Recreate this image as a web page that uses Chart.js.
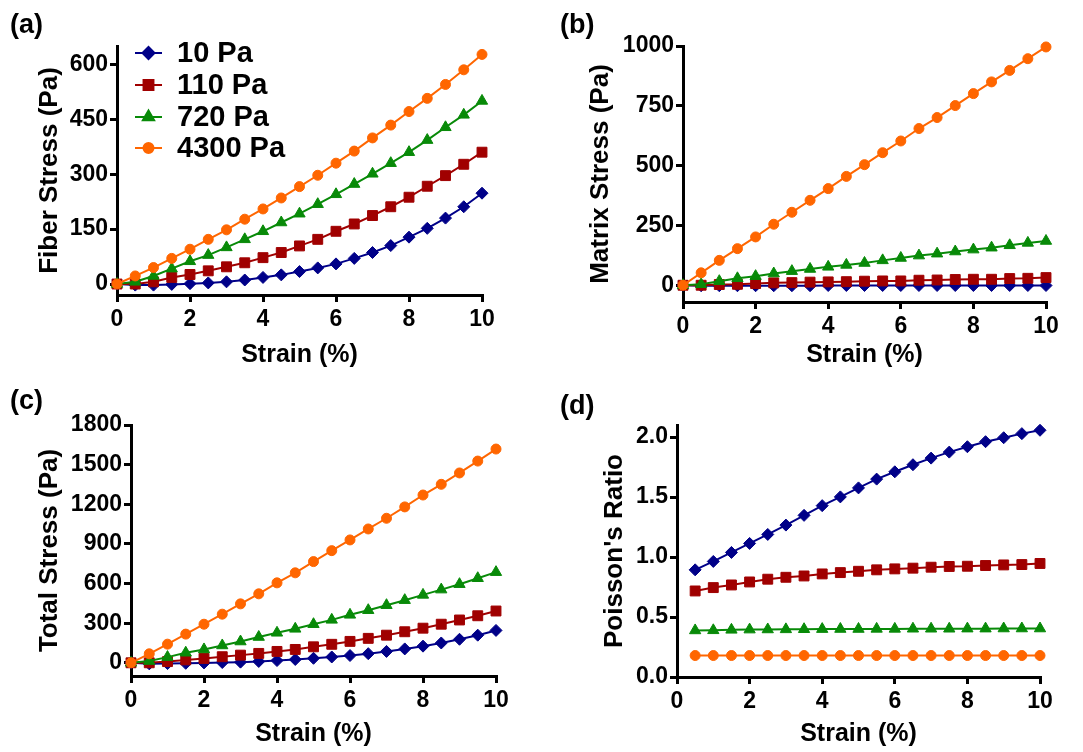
<!DOCTYPE html>
<html><head><meta charset="utf-8">
<script src="https://cdn.jsdelivr.net/npm/chart.js@4/dist/chart.umd.min.js"></script>
<style>
html,body{margin:0;padding:0;background:#fff;}
#wrap{position:relative;width:1083px;height:752px;overflow:hidden;background:#fff;}
canvas{position:absolute;}
</style></head><body>
<div id="wrap">
<canvas id="ca" width="541" height="376" style="left:0;top:0"></canvas>
<canvas id="cb" width="542" height="376" style="left:541px;top:0"></canvas>
<canvas id="cc" width="541" height="376" style="left:0;top:376px"></canvas>
<canvas id="cd" width="542" height="376" style="left:541px;top:376px"></canvas>
</div>
<script>
// ---------- data ----------
const seriesLabels = ['10 Pa', '110 Pa', '720 Pa', '4300 Pa'];
const strain  = [0,0.5,1,1.5,2,2.5,3,3.5,4,4.5,5,5.5,6,6.5,7,7.5,8,8.5,9,9.5,10];
const strainD = [0.5,1,1.5,2,2.5,3,3.5,4,4.5,5,5.5,6,6.5,7,7.5,8,8.5,9,9.5,10];

const fiber10   = [0,-3,-3,-1,1,3,6,11,18,25,34,44,55,70,86,105,128,152,180,211,248];
const fiber110  = [0,0,6,18,26,36,47,58,72,86,104,122,144,164,187,211,237,267,296,327,360];
const fiber720  = [0,6,22,42,62,79,100,122,144,168,192,218,245,273,301,330,360,393,428,462,500];
const fiber4300 = [0,22,45,70,95,122,148,177,205,235,266,297,330,363,399,434,471,507,545,585,627];

const matrix10   = [0,-2,-2,-2,-2,-2,-2,-2,-1,-1,-1,-1,-1,-1,-1,-1,-1,-1,-1,-1,-1];
const matrix110  = [0,0,3,4,7,10,11,13,14,15,17,18,18,21,22,24,25,25,28,29,32];
const matrix720  = [0,4,17,29,38,49,59,68,77,85,93,104,114,124,132,141,149,157,167,177,185];
const matrix4300 = [0,52,104,153,202,255,305,355,404,455,504,554,603,655,701,751,801,850,898,947,996];

const total10   = [0,-8,-6,-4,-1,2,5,10,17,25,34,44,55,69,86,105,126,150,178,209,245];
const total110  = [0,0,9,22,33,46,58,71,86,101,121,140,162,185,209,235,262,292,324,356,392];
const total720  = [0,13,43,76,101,131,161,195,227,257,292,325,363,398,436,474,514,554,595,640,686];
const total4300 = [0,68,141,217,292,368,446,522,605,681,766,849,930,1013,1094,1180,1270,1351,1437,1527,1618];

const poisson10   = [0.893,0.963,1.038,1.113,1.188,1.266,1.347,1.428,1.501,1.576,1.649,1.710,1.769,1.824,1.874,1.919,1.961,1.994,2.028,2.056];
const poisson110  = [0.717,0.745,0.767,0.792,0.815,0.831,0.842,0.859,0.870,0.881,0.893,0.901,0.907,0.915,0.921,0.923,0.929,0.934,0.937,0.946];
const poisson720  = [0.388,0.389,0.393,0.395,0.396,0.397,0.398,0.399,0.400,0.400,0.401,0.401,0.402,0.402,0.402,0.403,0.403,0.404,0.404,0.404];
const poisson4300 = [0.179,0.179,0.179,0.179,0.179,0.179,0.179,0.179,0.179,0.179,0.179,0.179,0.179,0.179,0.179,0.179,0.179,0.179,0.179,0.179];

const xTicks = [0,2,4,6,8,10];
const yTicksA = [0,150,300,450,600];
const yTicksB = [0,250,500,750,1000];
const yTicksC = [0,300,600,900,1200,1500,1800];
const yTicksD = [0,0.5,1.0,1.5,2.0];

// ---------- styles ----------
const FONT = '"Liberation Sans", Arial, Helvetica, sans-serif';
Chart.defaults.font.family = FONT;
const STYLES = [
  {color:'#000088', style:'rectRot',  r:6,   order:3},
  {color:'#A00000', style:'rect',     r:7,   order:2},
  {color:'#088A08', style:'triangle', r:6.5, order:1},
  {color:'#FF6600', style:'circle',   r:5,   order:0}
];

const decor = {
  id: 'decor',
  afterDraw(chart, args, o) {
    const ctx = chart.ctx;
    ctx.save();
    ctx.fillStyle = '#000';
    ctx.textAlign = 'left';
    ctx.textBaseline = 'middle';
    ctx.font = 'bold 27px ' + FONT;
    ctx.fillText(o.tag, o.tagX, o.tagY);
    if (o.legend) {
      const rows = [53, 85, 117, 148];
      ctx.font = 'bold 29px ' + FONT;
      seriesLabels.forEach((lab, k) => {
        const s = STYLES[k], y = rows[k];
        ctx.strokeStyle = s.color; ctx.fillStyle = s.color; ctx.lineWidth = 2;
        ctx.beginPath(); ctx.moveTo(135, y); ctx.lineTo(162, y); ctx.stroke();
        Chart.helpers.drawPoint(ctx, {pointStyle: s.style, radius: s.r, rotation: 0, borderWidth: 1}, 148.5, y);
        ctx.fillStyle = '#000';
        ctx.fillText(lab, 177, y + 1);
      });
    }
    ctx.restore();
  }
};

function panel(id, p) {
  const H = 376;
  const datasets = STYLES.map((s, k) => ({
    label: seriesLabels[k],
    data: p.xs.map((x, i) => ({x: x, y: p.ys[k][i]})),
    borderColor: s.color, backgroundColor: s.color,
    pointBackgroundColor: s.color, pointBorderColor: s.color,
    pointStyle: s.style, pointRadius: s.r, pointHoverRadius: s.r, pointBorderWidth: 1,
    borderWidth: 2, tension: 0, clip: false, order: s.order
  }));
  const tickFont = {family: FONT, size: 23, weight: 'bold'};
  const axisCommon = {
    grid: {drawOnChartArea: false, drawTicks: true, tickLength: 7, color: '#000', lineWidth: 3},
    border: {display: true, color: '#000', width: 3}
  };
  return new Chart(document.getElementById(id), {
    type: 'line',
    data: {datasets},
    options: {
      responsive: false, animation: false, devicePixelRatio: 1, events: [],
      layout: {padding: {left: 0, top: p.area.t, right: p.W - p.area.r, bottom: 0}},
      plugins: {legend: {display: false}, tooltip: {enabled: false},
        decor: {tag: p.tag, tagX: p.tagX, tagY: p.tagY, legend: !!p.legend}},
      scales: {
        x: Object.assign({}, axisCommon, {
          type: 'linear', min: 0, max: 10,
          afterBuildTicks: s => { s.ticks = xTicks.map(v => ({value: v})); },
          afterFit: s => { s.height = H - p.area.b; },
          ticks: {font: tickFont, color: '#000', padding: 4, maxRotation: 0, callback: v => String(v)},
          title: {display: true, text: 'Strain (%)', color: '#000',
                  font: {family: FONT, size: 25, weight: 'bold'}, padding: {top: 0, bottom: p.xTitlePad}}
        }),
        y: Object.assign({}, axisCommon, {
          type: 'linear', min: p.ymin, max: p.ymax,
          afterBuildTicks: s => { s.ticks = p.yticks.map(v => ({value: v})); },
          afterFit: s => { s.width = p.area.l; },
          ticks: {font: tickFont, color: '#000', padding: 2, callback: p.fmt},
          title: {display: true, text: p.ytitle, color: '#000',
                  font: {family: FONT, size: 26, weight: 'bold'}, padding: {top: p.yTitlePad, bottom: 0}}
        })
      }
    },
    plugins: [decor]
  });
}

panel('ca', {W: 541, area: {l: 117, t: 46, r: 482, b: 295}, ymin: -30, ymax: 650,
  yticks: yTicksA, fmt: v => String(v), ytitle: 'Fiber Stress (Pa)',
  xs: strain, ys: [fiber10, fiber110, fiber720, fiber4300],
  tag: '(a)', tagX: 10, tagY: 26, legend: true, xTitlePad: 6, yTitlePad: 34});

panel('cb', {W: 542, area: {l: 142, t: 46, r: 505, b: 302}, ymin: -70, ymax: 1000,
  yticks: yTicksB, fmt: v => String(v), ytitle: 'Matrix Stress (Pa)',
  xs: strain, ys: [matrix10, matrix110, matrix720, matrix4300],
  tag: '(b)', tagX: 19, tagY: 26, xTitlePad: 6, yTitlePad: 44});

panel('cc', {W: 541, area: {l: 131, t: 49, r: 496, b: 300}, ymin: -100, ymax: 1800,
  yticks: yTicksC, fmt: v => String(v), ytitle: 'Total Stress (Pa)',
  xs: strain, ys: [total10, total110, total720, total4300],
  tag: '(c)', tagX: 10, tagY: 26, xTitlePad: 3, yTitlePad: 34});

panel('cd', {W: 542, area: {l: 136, t: 49, r: 499, b: 301}, ymin: 0, ymax: 2.1,
  yticks: yTicksD, fmt: v => Number(v).toFixed(1), ytitle: "Poisson's Ratio",
  xs: strainD, ys: [poisson10, poisson110, poisson720, poisson4300],
  tag: '(d)', tagX: 19, tagY: 31, xTitlePad: 3, yTitlePad: 58});
</script>
</body></html>
